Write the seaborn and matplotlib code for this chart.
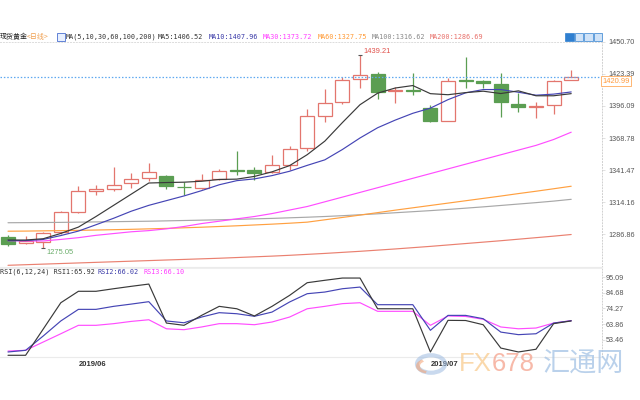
import matplotlib
matplotlib.use('Agg')
import matplotlib.pyplot as plt
import seaborn as sns
import numpy as np
import pandas as pd
from matplotlib.patches import Rectangle, Circle, Wedge

# ---------------- data ----------------
dates = pd.bdate_range('2019-05-28', '2019-07-11')

opens = [1284.5, 1279.5, 1280.0, 1288.5, 1305.5, 1324.0, 1325.0, 1330.5, 1335.0, 1336.2,
         1327.5, 1326.0, 1333.5, 1341.6, 1341.3, 1339.5, 1346.0, 1360.0, 1387.4, 1399.8,
         1419.1, 1423.0, 1408.5, 1409.6, 1394.2, 1383.5, 1418.2, 1417.6, 1414.8, 1397.9,
         1395.1, 1397.0, 1418.2]
highs = [1285.9, 1285.0, 1289.0, 1307.0, 1327.7, 1328.6, 1344.0, 1339.0, 1347.5, 1337.6,
         1331.0, 1338.5, 1342.7, 1358.0, 1344.0, 1354.6, 1361.7, 1393.6, 1410.6, 1420.5,
         1439.21, 1424.7, 1412.5, 1423.9, 1397.0, 1420.2, 1437.5, 1418.2, 1423.9, 1407.0,
         1399.8, 1418.2, 1426.7]
lows = [1276.9, 1278.5, 1275.05, 1287.0, 1305.0, 1320.5, 1324.0, 1326.5, 1332.0, 1325.4,
        1320.5, 1325.5, 1333.0, 1337.7, 1333.4, 1339.0, 1341.3, 1357.4, 1382.3, 1398.0,
        1411.7, 1401.9, 1398.5, 1405.5, 1382.0, 1383.0, 1411.7, 1411.2, 1386.6, 1391.3,
        1385.7, 1389.4, 1418.0]
closes = [1279.0, 1281.0, 1288.0, 1305.5, 1324.0, 1325.0, 1329.0, 1333.5, 1339.5, 1327.7,
          1326.8, 1333.0, 1341.0, 1341.0, 1339.1, 1346.0, 1359.5, 1387.7, 1398.7, 1418.2,
          1422.4, 1408.3, 1409.4, 1409.0, 1383.5, 1417.4, 1417.6, 1415.4, 1399.0, 1395.1,
          1396.4, 1417.6, 1420.99]

ma5 = [1282.0, 1282.0, 1283.1, 1287.6, 1293.0, 1302.0, 1311.5, 1321.0, 1330.5, 1330.9,
       1331.2, 1332.0, 1333.5, 1333.8, 1336.1, 1340.0, 1345.3, 1354.6, 1366.1, 1381.9,
       1397.1, 1406.9, 1411.3, 1413.4, 1406.5, 1405.6, 1407.4, 1408.6, 1406.6, 1408.9,
       1404.7, 1404.7, 1406.52]
ma10 = [1281.5, 1281.5, 1282.5, 1285.8, 1289.6, 1295.0, 1300.5, 1306.5, 1311.5, 1315.5,
        1319.5, 1324.0, 1329.0, 1332.5, 1334.0, 1336.8, 1340.5, 1345.5, 1350.2, 1359.0,
        1368.8, 1377.5, 1384.0, 1389.8, 1394.2, 1401.4, 1407.2, 1410.0, 1410.0, 1407.7,
        1405.2, 1406.1, 1407.96]
ma30 = [1281.5, 1281.2, 1281.2, 1282.5, 1284.0, 1286.0, 1287.5, 1289.0, 1290.0, 1291.5,
        1293.5, 1296.0, 1298.0, 1300.0, 1302.0, 1304.5, 1307.5, 1310.5, 1314.5, 1318.5,
        1322.5, 1326.5, 1330.5, 1334.5, 1338.5, 1342.5, 1346.5, 1350.5, 1354.5, 1358.5,
        1362.5, 1367.5, 1373.72]
ma60 = [1289.5, 1289.6, 1289.8, 1290.0, 1290.2, 1290.5, 1290.8, 1291.1, 1291.5, 1291.9,
        1292.4, 1292.9, 1293.5, 1294.1, 1294.8, 1295.5, 1296.3, 1297.2, 1299.2, 1301.2,
        1303.2, 1305.3, 1307.4, 1309.4, 1311.4, 1313.4, 1315.4, 1317.4, 1319.4, 1321.5,
        1323.5, 1325.6, 1327.75]
ma100 = [1296.7, 1296.8, 1296.9, 1297.0, 1297.2, 1297.4, 1297.6, 1297.8, 1298.0, 1298.3,
         1298.6, 1298.9, 1299.2, 1299.6, 1300.0, 1300.4, 1300.9, 1301.4, 1302.0, 1302.7,
         1303.5, 1304.3, 1305.2, 1306.1, 1307.0, 1308.0, 1309.1, 1310.2, 1311.4, 1312.6,
         1313.8, 1315.1, 1316.62]
ma200 = [1260.5, 1261.0, 1261.5, 1262.0, 1262.5, 1263.0, 1263.5, 1264.0, 1264.5, 1265.0,
         1265.5, 1266.0, 1266.5, 1267.1, 1267.7, 1268.3, 1269.0, 1269.8, 1270.6, 1271.5,
         1272.4, 1273.4, 1274.4, 1275.5, 1276.6, 1277.8, 1279.0, 1280.2, 1281.4, 1282.7,
         1284.0, 1285.3, 1286.69]

rsi1 = [43.1, 43.1, 60.5, 78.0, 85.6, 85.6, 87.3, 88.9, 90.4, 64.5, 63.0, 69.6, 75.6, 74.0,
        69.2, 75.6, 82.9, 91.3, 92.9, 94.4, 94.4, 74.0, 74.0, 74.0, 45.3, 66.3, 66.2, 63.4,
        47.9, 45.3, 47.1, 64.1, 65.92]
rsi2 = [45.3, 46.4, 55.9, 65.9, 73.6, 73.6, 75.6, 77.1, 78.7, 65.9, 64.7, 68.5, 71.4, 70.7,
        69.0, 71.8, 78.5, 84.0, 85.1, 87.3, 88.4, 76.7, 76.7, 76.7, 59.7, 69.6, 69.6, 67.4,
        58.5, 56.8, 57.4, 64.5, 66.02]
rsi3 = [45.9, 46.4, 51.9, 57.4, 63.0, 63.0, 64.1, 65.6, 66.7, 60.7, 60.1, 61.9, 64.1, 64.1,
        63.4, 65.2, 68.5, 74.0, 75.6, 77.4, 78.0, 72.3, 72.3, 72.3, 63.0, 69.2, 68.9, 67.0,
        61.9, 60.7, 61.2, 64.5, 66.10]

price_ticks = [1450.70, 1423.39, 1396.09, 1368.78, 1341.47, 1314.16, 1286.86]
rsi_ticks = [95.09, 84.68, 74.27, 63.86, 53.46]
ma_labels = ['MA5:1406.52', 'MA10:1407.96', 'MA30:1373.72', 'MA60:1327.75',
             'MA100:1316.62', 'MA200:1286.69']
rsi_labels = ['RSI(6,12,24) RSI1:65.92', 'RSI2:66.02', 'RSI3:66.10']

# ---------------- style ----------------
sns.set_style('white')
plt.rcParams['font.family'] = ['DejaVu Sans', 'Noto Sans CJK SC']

RED = '#e3766e'
GREEN = '#5b9e52'
MA_COLORS = ['#3a3a3a', '#4545b5', '#ff4dff', '#ffa040', '#a8a8a8', '#ea8070']
RSI_COLORS = ['#3a3a3a', '#4545b5', '#ff4dff']
GRID = '#dcdcdc'

W, H = 640, 400
fig = plt.figure(figsize=(6.4, 4.0), dpi=100)
fig.patch.set_facecolor('white')


def fx(x):
    return x / W


def fy(y):
    return 1 - y / H


AX_R = 602
ax = fig.add_axes([0, fy(267), fx(AX_R), (267 - 41.7) / H])
ax2 = fig.add_axes([0, fy(357), fx(AX_R), (357 - 268) / H])

o = np.array(opens); h = np.array(highs); l = np.array(lows); c = np.array(closes)
idx = np.arange(len(c))
up = c >= o
body_lo = np.minimum(o, c)
body_h = np.maximum(np.abs(c - o), 0.45)

# wicks
ax.vlines(idx[up], l[up], h[up], colors=RED, lw=0.9, zorder=2)
ax.vlines(idx[~up], l[~up], h[~up], colors=GREEN, lw=0.9, zorder=2)
# bodies
ax.bar(idx[up], body_h[up], bottom=body_lo[up], width=0.8, facecolor='white',
       edgecolor=RED, linewidth=0.9, zorder=3)
ax.bar(idx[~up], body_h[~up], bottom=body_lo[~up], width=0.8, facecolor=GREEN,
       edgecolor=GREEN, linewidth=0.9, zorder=3)

# moving averages
for series, col in zip([ma200, ma100, ma60, ma30, ma10, ma5], MA_COLORS[::-1]):
    sns.lineplot(x=idx, y=series, ax=ax, color=col, linewidth=0.85, zorder=4)

# last price dotted line
ax.axhline(c[-1], color='#5ea8f0', lw=0.9, ls=(0, (1.2, 1.5)), zorder=5)

# high / low annotations
imax = int(np.argmax(h)); imin = int(np.argmin(l))
ax.plot([imax], [h[imax]], marker='_', color='#555555', markersize=3.5, mew=0.8, zorder=6)
ax.annotate(f'{h[imax]:.2f}', xy=(imax, h[imax]), xytext=(2.2, 2.4),
            textcoords='offset points', ha='left', va='center', fontsize=5.4,
            color='#e0504a', family='Liberation Sans')
ax.plot([imin], [l[imin]], marker='_', color='#555555', markersize=3.5, mew=0.8, zorder=6)
ax.annotate(f'{l[imin]:.2f}', xy=(imin, l[imin]), xytext=(2.2, -3.0),
            textcoords='offset points', ha='left', va='center', fontsize=5.4,
            color='#6aad6a', family='Liberation Sans')

xl = (-0.455, 33.75)
ax.set_xlim(*xl)
ax.set_ylim(1259.05, 1450.70)
ax.yaxis.tick_right()
ax.set_yticks(price_ticks)
ax.set_yticklabels([f'{v:.2f}' for v in price_ticks])
ax.tick_params(axis='y', length=2, width=0.6, color=GRID, pad=2.5, labelsize=5.2,
               labelcolor='#555555')
ax.set_xticks([])
ax.set_xlabel(''); ax.set_ylabel('')
for lab in ax.get_yticklabels():
    lab.set_family('Liberation Sans')
ax.spines['left'].set_visible(False)
ax.spines['top'].set_color(GRID); ax.spines['top'].set_linestyle((0, (1, 2))); ax.spines['top'].set_linewidth(0.7)
ax.spines['right'].set_color('#d0d0d0'); ax.spines['right'].set_linestyle((0, (1, 2))); ax.spines['right'].set_linewidth(0.7)
ax.spines['bottom'].set_color('#ebebeb'); ax.spines['bottom'].set_linewidth(0.8)

# last price box
ax.text(1.0 + 0.3 / 602, c[-1] - 0.9, f'{c[-1]:.2f}', transform=ax.get_yaxis_transform(),
        ha='left', va='top', fontsize=5.4, color='#ff9a3c', family='Liberation Sans',
        bbox=dict(boxstyle='square,pad=0.18', fc='white', ec='#ffab5c', lw=0.6),
        clip_on=False, zorder=10)

# ---------------- RSI panel ----------------
for series, col in zip([rsi3, rsi2, rsi1], RSI_COLORS[::-1]):
    sns.lineplot(x=idx, y=series, ax=ax2, color=col, linewidth=0.85)
ax2.set_xlim(*xl)
ax2.set_ylim(41.96, 101.07)
ax2.yaxis.tick_right()
ax2.set_yticks(rsi_ticks)
ax2.set_yticklabels([f'{v:.2f}' for v in rsi_ticks])
ax2.tick_params(axis='y', length=2, width=0.6, color=GRID, pad=0.8, labelsize=5.2,
                labelcolor='#555555')
month_pos = [i for i in range(1, len(dates)) if dates[i].month != dates[i - 1].month]
ax2.set_xticks(month_pos)
ax2.set_xticklabels([dates[i].strftime('%Y/%m') for i in month_pos])
ax2.tick_params(axis='x', length=2.5, width=0.6, color='#bbbbbb', pad=0.5, labelsize=5.5,
                labelcolor='#333333')
for lab in ax2.get_xticklabels():
    lab.set_ha('left'); lab.set_family('Liberation Sans'); lab.set_fontweight('bold')
for lab in ax2.get_yticklabels():
    lab.set_family('Liberation Sans')
ax2.set_xlabel(''); ax2.set_ylabel('')
ax2.spines['left'].set_visible(False)
ax2.spines['top'].set_color('#eeeeee'); ax2.spines['top'].set_linewidth(0.8)
ax2.spines['right'].set_color('#d0d0d0'); ax2.spines['right'].set_linestyle((0, (1, 2))); ax2.spines['right'].set_linewidth(0.7)
ax2.spines['bottom'].set_color('#ebebeb'); ax2.spines['bottom'].set_linewidth(0.8)

# ---------------- header texts ----------------
MONO = 'DejaVu Sans Mono'
MS = 4.9
LY = 37
fig.text(fx(0), fy(LY), '现货黄金', fontsize=5.0, color='#222222', va='center', ha='left',
         family=['Noto Sans CJK SC', 'DejaVu Sans'])
fig.text(fx(27), fy(LY), '<日线>', fontsize=5.0, color='#f0a050', va='center', ha='left',
         family=['Noto Sans CJK SC', 'DejaVu Sans'])
fig.patches.append(Rectangle((fx(57), fy(41)), fx(8), 8 / H, transform=fig.transFigure,
                             fc='#e8f0ff', ec='#4a6fd0', lw=0.6))
fig.text(fx(66), fy(LY), 'MA(5,10,30,60,100,200)', fontsize=MS, color='#333333',
         va='center', ha='left', family=MONO)
ma_x = [158, 209, 263, 318, 372, 430]
ma_txt_cols = ['#333333', '#3a3aa8', '#ff3cff', '#ff9933', '#888888', '#e8706a']
for xx, t, col in zip(ma_x, ma_labels, ma_txt_cols):
    fig.text(fx(xx), fy(LY), t, fontsize=MS, color=col, va='center', ha='left', family=MONO)

RY = 271.5
for xx, t, col in zip([0, 97, 143], rsi_labels, ['#333333', '#3a3aa8', '#ff3cff']):
    fig.text(fx(xx), fy(RY), t, fontsize=MS, color=col, va='center', ha='left', family=MONO)

# toolbar icons (top right)
for k, xx in enumerate([565, 574.5, 584, 593.5]):
    fig.patches.append(Rectangle((fx(xx), fy(40.5)), fx(8.5), 7.5 / H, transform=fig.transFigure,
                                 fc='#2f7fd0' if k == 0 else '#cfe2f7',
                                 ec='#2f7fd0', lw=0.5))

# ---------------- watermark ----------------
fig.patches.append(Circle((fx(431), fy(364)), 14 / W, transform=fig.transFigure,
                          fc='none', ec='#9dbbe0', lw=3.0, alpha=0.55))
fig.patches.append(Wedge((fx(428), fy(366)), 12 / W, 120, 260, width=4 / W,
                         transform=fig.transFigure, fc='#f4a070', ec='none', alpha=0.55))
fig.text(fx(459), fy(364), 'FX', fontsize=18.5, color='#f9cf96', alpha=0.8, va='center',
         ha='left', family='Liberation Sans')
fig.text(fx(492), fy(364), '678', fontsize=18.5, color='#f5a894', alpha=0.8, va='center',
         ha='left', family='Liberation Sans')
fig.text(fx(543), fy(364), '汇通网', fontsize=19.5, color='#a9c6e6', alpha=0.8,
         va='center', ha='left', family=['Noto Sans CJK SC', 'DejaVu Sans'])

fig.savefig('out.png', dpi=100, facecolor='white')
